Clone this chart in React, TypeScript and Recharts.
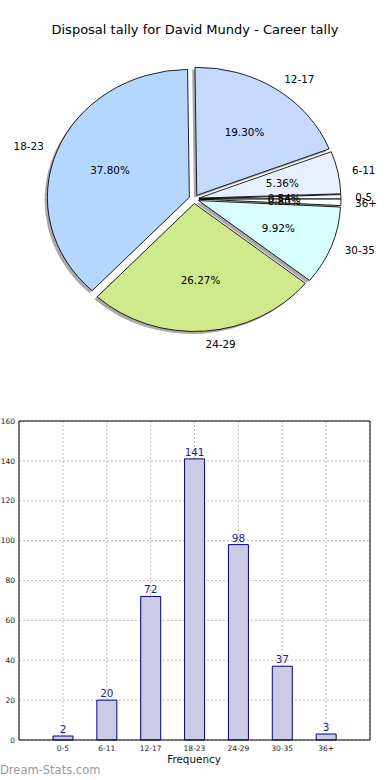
import { PieChart, Pie, Cell, BarChart, Bar, XAxis, YAxis, CartesianGrid, LabelList } from "recharts";

const categories = ["0-5", "6-11", "12-17", "18-23", "24-29", "30-35", "36+"];
const tallies = [2, 20, 72, 141, 98, 37, 3];
const sliceColors = ["#f4f8ff", "#e8efff", "#c5d9ff", "#b5d6ff", "#d0ea8b", "#d9ffff", "#ffffff"];
const yTicks = [0, 20, 40, 60, 80, 100, 120, 140, 160];

const pieData = categories.map((name, i) => ({ name, value: tallies[i] }));
const barData = categories.map((name, i) => ({ name, tally: tallies[i] }));

const total = tallies.reduce((a, b) => a + b, 0);
// mid angle of each slice (deg, ccw from 3 o'clock) -> used for the explode offset
const midAngles = tallies.map(
  (v, i) => ((tallies.slice(0, i).reduce((a, b) => a + b, 0) + v / 2) / total) * 360,
);

const FONT = "'DejaVu Sans', sans-serif";
const CX = 194;
const CY = 199;
const R = 142;
const SQUASH = 128 / 142; // pie is drawn as an ellipse (no equal aspect)
const EXPLODE = 0.035;
const SHADOW = 2.8;
const RAD = Math.PI / 180;

const explodeOf = (deg: number) => ({
  dx: EXPLODE * R * Math.cos(deg * RAD),
  dy: -EXPLODE * R * Math.sin(deg * RAD),
});

const unsquash = (x: number, y: number) => `translate(${x},${y}) scale(1,${1 / SQUASH})`;

const renderLabels = (p: any) => {
  const a = p.midAngle * RAD;
  const c = Math.cos(a);
  const s = Math.sin(a);
  const { dx, dy } = explodeOf(p.midAngle);
  const ox = CX + dx;
  const oy = CY + dy;
  const lx = ox + 1.1 * R * c;
  const ly = oy - 1.1 * R * s;
  const px = ox + 0.6 * R * c;
  const py = oy - 0.6 * R * s;
  return (
    <g key={`lbl-${p.index}`}>
      <text
        transform={unsquash(lx, ly)}
        textAnchor={c > 0 ? "start" : "end"}
        dominantBaseline="central"
        fontSize={10.4}
        fill="#000"
      >
        {categories[p.index]}
      </text>
      <text transform={unsquash(px, py)} textAnchor="middle" dominantBaseline="central" fontSize={10.4} fill="#000">
        {`${(p.percent * 100).toFixed(2)}%`}
      </text>
    </g>
  );
};

function DisposalPie() {
  return (
    <div
      style={{
        position: "absolute",
        left: 0,
        top: 0,
        width: 390,
        height: 400,
        transform: `scaleY(${SQUASH})`,
        transformOrigin: `195px ${CY}px`,
      }}
    >
      <PieChart width={390} height={400} margin={{ top: 0, right: 0, bottom: 0, left: 0 }}>
        {/* shadows */}
        {midAngles.map((deg, i) => {
          const { dx, dy } = explodeOf(deg);
          return (
            <Pie
              key={`sh-${i}`}
              data={pieData}
              dataKey="value"
              cx={CX + dx - SHADOW}
              cy={CY + dy + SHADOW}
              outerRadius={R}
              startAngle={0}
              endAngle={360}
              isAnimationActive={false}
              label={false}
            >
              {pieData.map((_, j) => (
                <Cell key={j} fill={j === i ? "#555" : "none"} fillOpacity={0.5} stroke="none" />
              ))}
            </Pie>
          );
        })}
        {/* exploded slices */}
        {midAngles.map((deg, i) => {
          const { dx, dy } = explodeOf(deg);
          return (
            <Pie
              key={`sl-${i}`}
              data={pieData}
              dataKey="value"
              cx={CX + dx}
              cy={CY + dy}
              outerRadius={R}
              startAngle={0}
              endAngle={360}
              isAnimationActive={false}
              label={false}
            >
              {pieData.map((_, j) => (
                <Cell
                  key={j}
                  fill={j === i ? sliceColors[j] : "none"}
                  stroke={j === i ? "#000" : "none"}
                  strokeWidth={0.9}
                />
              ))}
            </Pie>
          );
        })}
        {/* labels */}
        <Pie
          data={pieData}
          dataKey="value"
          cx={CX}
          cy={CY}
          outerRadius={R}
          startAngle={0}
          endAngle={360}
          isAnimationActive={false}
          labelLine={false}
          label={renderLabels}
        >
          {pieData.map((_, j) => (
            <Cell key={j} fill="none" stroke="none" />
          ))}
        </Pie>
      </PieChart>
    </div>
  );
}

function FrequencyBars() {
  return (
    <div style={{ position: "absolute", left: 0, top: 410 }}>
      <BarChart width={390} height={370} data={barData} margin={{ top: 10, right: 19, bottom: 20, left: 0 }}>
        <XAxis
          dataKey="name"
          interval={0}
          padding={{ left: 22, right: 22 }}
          tick={{ fontSize: 7.5, fill: "#222" }}
          tickLine={false}
          tickSize={4}
          axisLine={{ stroke: "#000" }}
          height={20}
        />
        <XAxis
          xAxisId="top"
          orientation="top"
          dataKey="name"
          padding={{ left: 22, right: 22 }}
          tick={false}
          tickLine={false}
          axisLine={{ stroke: "#000" }}
          height={1}
        />
        <YAxis
          domain={[0, 160]}
          ticks={yTicks}
          interval={0}
          tick={{ fontSize: 7.5, fill: "#222" }}
          tickLine={false}
          tickSize={2}
          axisLine={{ stroke: "#000" }}
          width={19}
        />
        <YAxis
          yAxisId="right"
          orientation="right"
          domain={[0, 160]}
          tick={false}
          tickLine={false}
          axisLine={{ stroke: "#000" }}
          width={1}
        />
        <Bar dataKey="tally" barSize={20} fill="#cbcbe5" stroke="#00007f" strokeWidth={1} isAnimationActive={false}>
          <LabelList dataKey="tally" position="top" offset={3} fill="#1c1c8c" fontSize={10.4} />
        </Bar>
        <CartesianGrid stroke="#bdbdbd" strokeDasharray="2 2" />
      </BarChart>
    </div>
  );
}

export default function App() {
  return (
    <div
      style={{
        position: "absolute",
        left: 0,
        top: 0,
        width: 390,
        height: 780,
        background: "#fff",
        fontFamily: FONT,
        overflow: "hidden",
      }}
    >
      <div
        style={{
          position: "absolute",
          left: 0,
          top: 22,
          width: 390,
          textAlign: "center",
          fontSize: 13,
          lineHeight: "16px",
          color: "#000",
        }}
      >
        Disposal tally for David Mundy - Career tally
      </div>
      <DisposalPie />
      <FrequencyBars />
      <div
        style={{
          position: "absolute",
          left: 0,
          width: 390,
          top: 753,
          textAlign: "center",
          fontSize: 10.4,
          lineHeight: "13px",
          color: "#111",
        }}
      >
        <span style={{ position: "relative", left: -1 }}>Frequency</span>
      </div>
      <div
        style={{
          position: "absolute",
          left: 0,
          top: 763,
          fontSize: 11.5,
          lineHeight: "14px",
          color: "#9a9a9a",
        }}
      >
        Dream-Stats.com
      </div>
    </div>
  );
}
